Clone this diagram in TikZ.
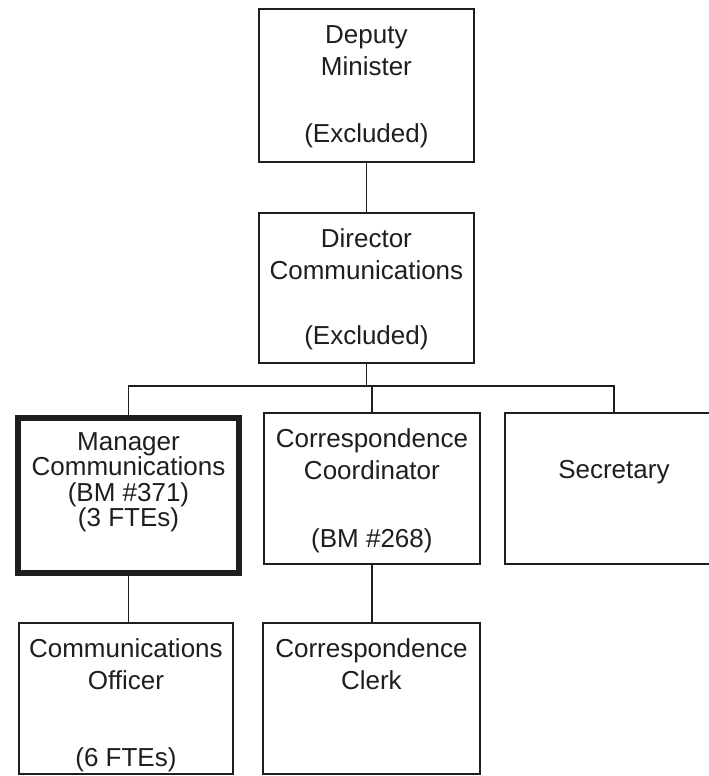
\documentclass[tikz,border=0pt]{standalone}
\usepackage{fontspec}
\setmainfont{Liberation Sans}
\definecolor{ink}{HTML}{1E1E1E}
\begin{document}
\begin{tikzpicture}[x=1pt,y=-1pt,
  box/.style={draw=ink,line width=1.8pt,rectangle,inner sep=0pt,anchor=north west},
  thickbox/.style={box,line width=6pt},
  txt/.style={text=ink,align=center,anchor=north,inner sep=0pt,font=\fontsize{26}{32.5}\selectfont},
  tighttxt/.style={txt,font=\fontsize{26}{25.5}\selectfont},
  conn/.style={draw=ink,line width=1.8pt}]
\useasboundingbox (0,0) rectangle (709,776);
% boxes
\node[box,minimum width=215pt,minimum height=153pt] (dm) at (258,8) {};
\node[box,minimum width=215pt,minimum height=150pt] (dc) at (258,212) {};
\node[thickbox,minimum width=221pt,minimum height=155pt] (mgr) at (15,415) {};
\node[box,minimum width=216pt,minimum height=151pt] (cc) at (263,412) {};
\node[box,minimum width=218pt,minimum height=151pt] (sec) at (504,412) {};
\node[box,minimum width=214pt,minimum height=151pt] (co) at (18,622) {};
\node[box,minimum width=217pt,minimum height=151pt] (ck) at (262,622) {};
% texts (north = first baseline - 19)
\node[txt] (dmt) at (dm.north |- 0,25) {Deputy\\Minister\\[34.5pt](Excluded)};
\node[txt] (dct) at (dc.north |- 0,228) {Director\\Communications\\[32.5pt](Excluded)};
\node[tighttxt] (mgrt) at (mgr.north |- 0,432) {Manager\\Communications\\(BM \#371)\\(3 FTEs)};
\node[txt] (cct) at (cc.north |- 0,428) {Correspondence\\Coordinator\\[35.5pt](BM \#268)};
\node[txt] (sect) at (sec.north |- 0,460) {Secretary};
\node[txt] (cot) at (co.north |- 0,638) {Communications\\Officer\\[44.5pt](6 FTEs)};
\node[txt] (ckt) at (ck.north |- 0,638) {Correspondence\\Clerk};
% connectors
\coordinate (bus) at (0,386);
\draw[conn] (dm.south) -- (dm.south |- dc.north);
\draw[conn] (dc.south) -- (dc.south |- bus);
\draw[conn] (mgr.north) -- (mgr.north |- bus) -- (sec.north |- bus) -- (sec.north);
\draw[conn] (cc.north) -- (cc.north |- bus);
\draw[conn] (mgr.south) -- (mgr.south |- co.north);
\draw[conn] (cc.south) -- (cc.south |- ck.north);
\end{tikzpicture}
\end{document}
